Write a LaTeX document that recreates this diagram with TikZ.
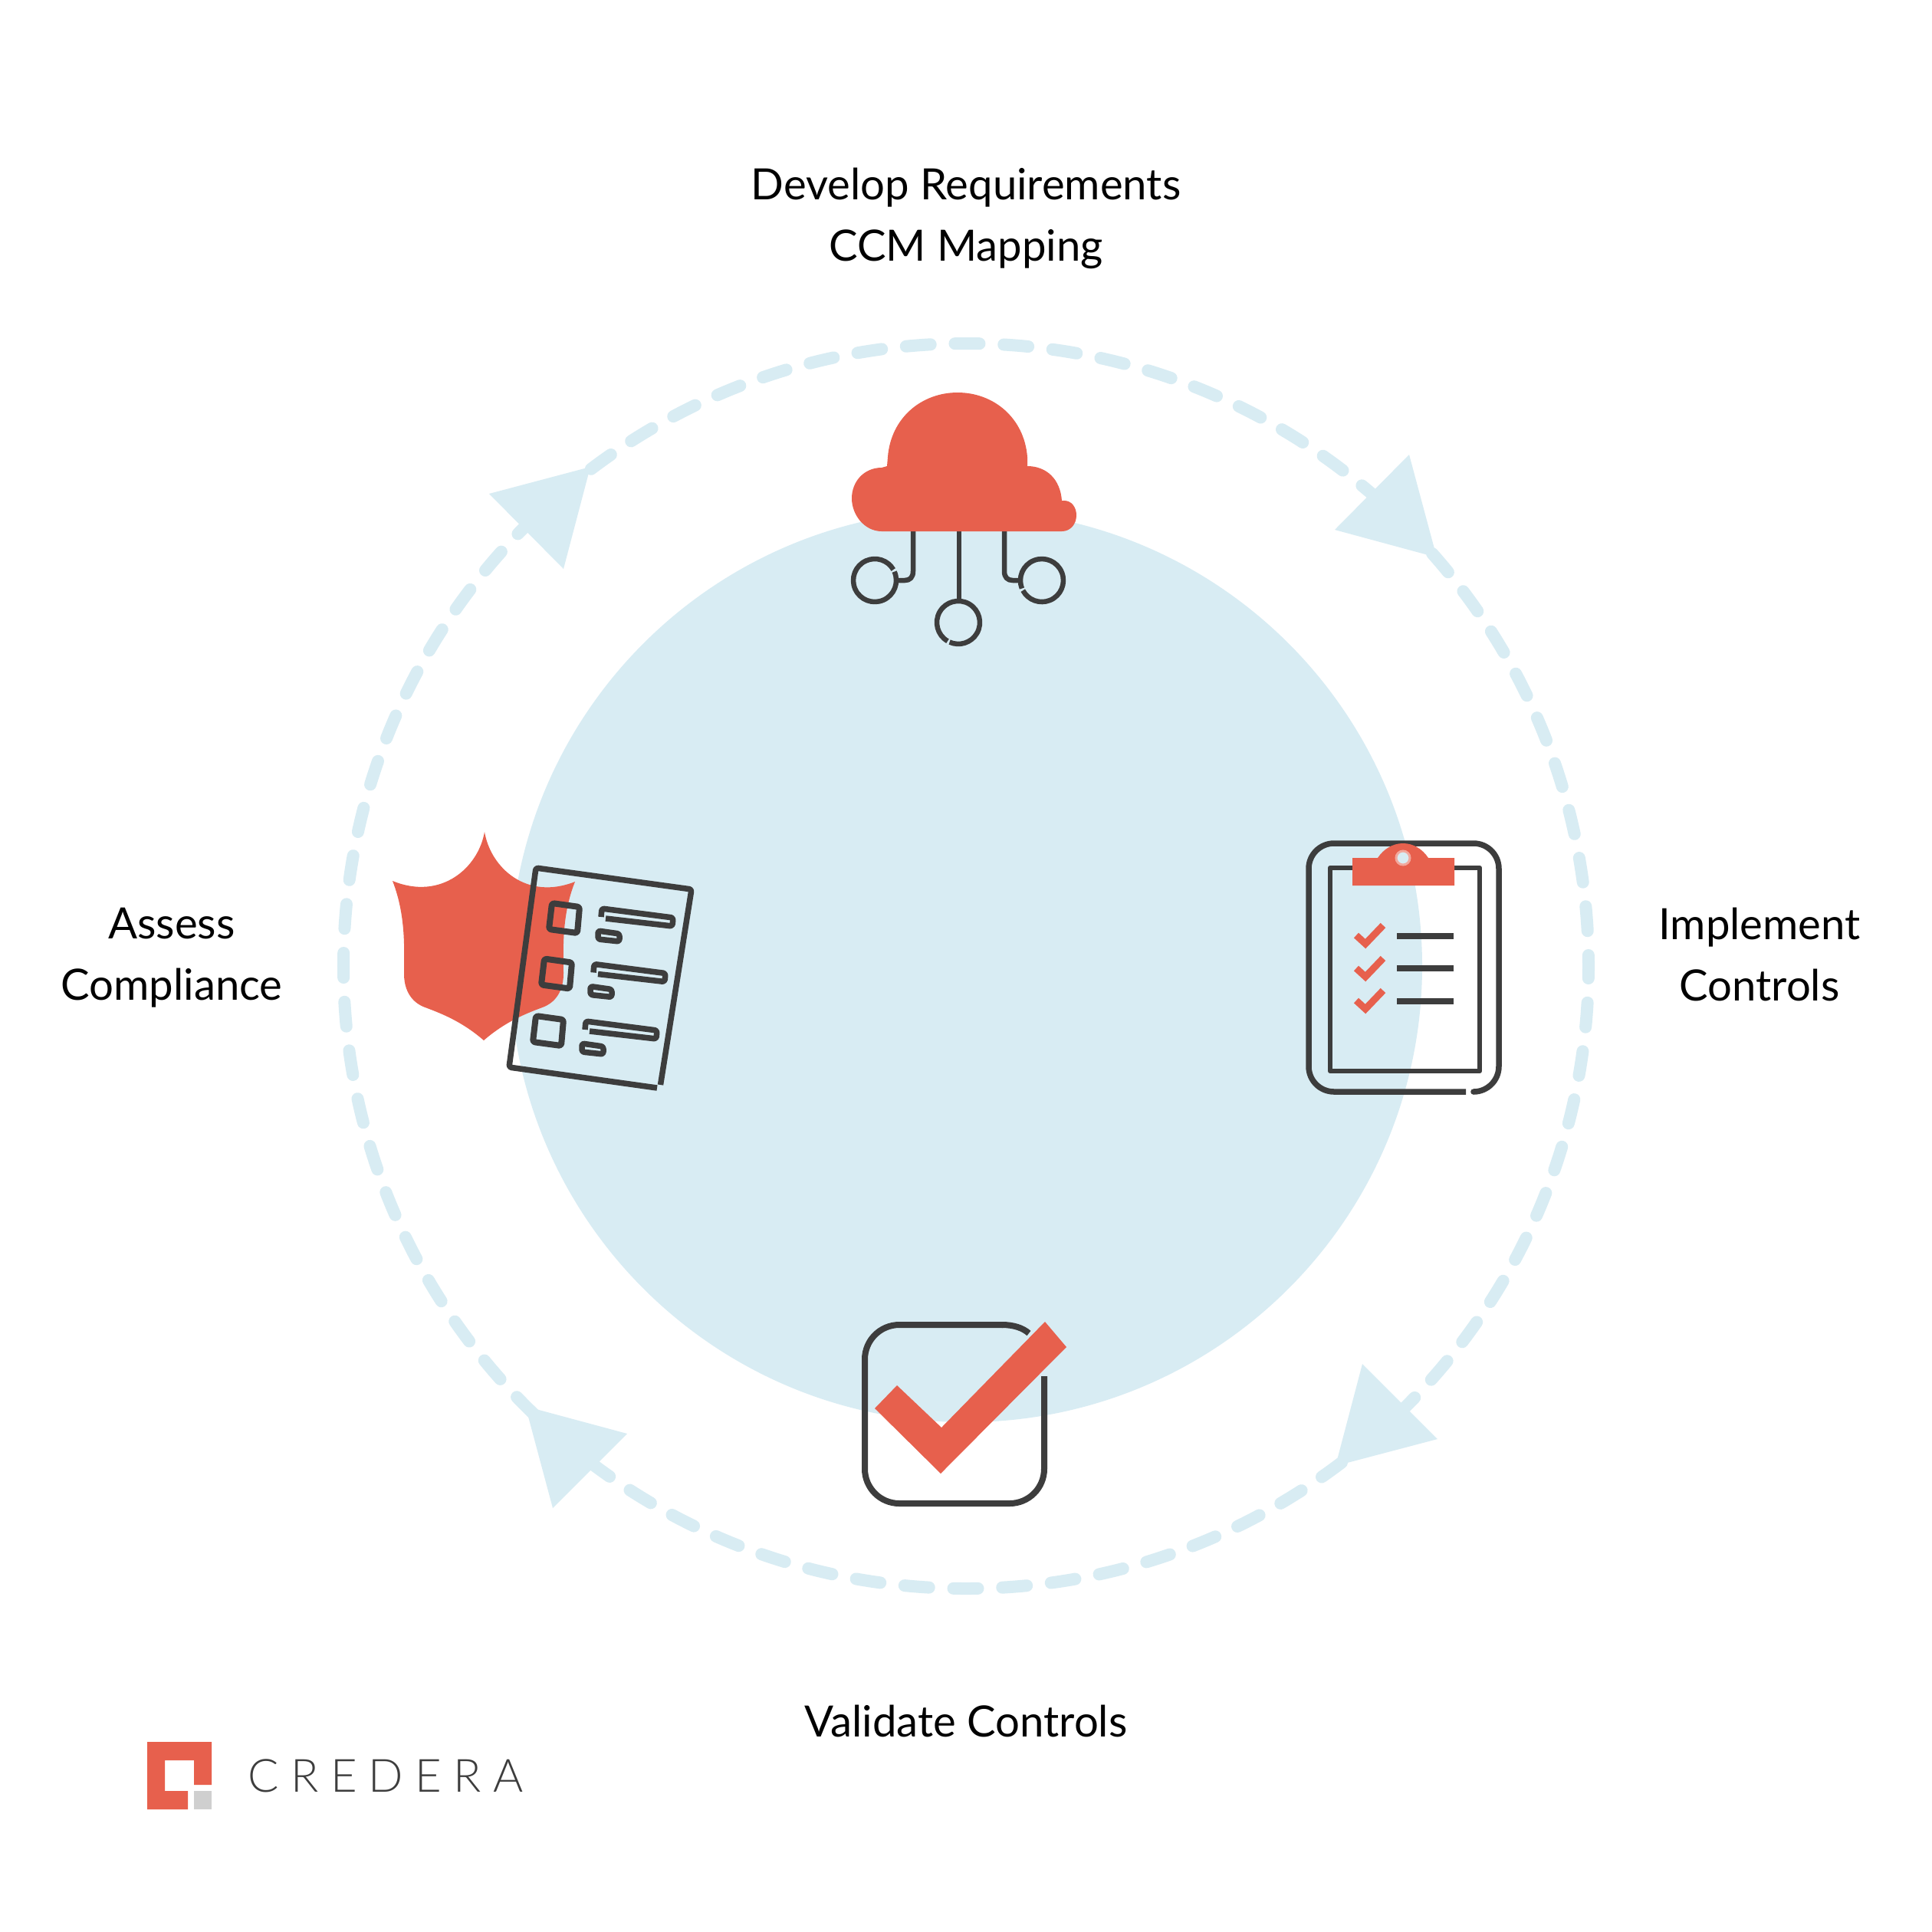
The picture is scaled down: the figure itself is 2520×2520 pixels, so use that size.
\documentclass[tikz,border=0pt]{standalone}
\usepackage{fontspec}
\setmainfont{Lato}
\newfontfamily\logofont[LetterSpace=25.6]{Lato Light}
\usepackage{tikz}
\usetikzlibrary{arrows.meta,positioning,calc}
\definecolor{paleblue}{HTML}{D8ECF3}
\definecolor{iconred}{HTML}{E7604D}
\definecolor{pencilgray}{HTML}{3D3D3D}
\definecolor{logogray}{HTML}{CFCFCF}

\begin{document}
\begin{tikzpicture}[x=0.01cm,y=-0.01cm,
    steplabel/.style={align=center,inner sep=0pt,text=black,font=\fontsize{16}{22.8}\selectfont},
    ringdash/.style={paleblue,line width=0.16cm,line cap=round,dash pattern=on 0.32cm off 0.3177cm,dash phase=0.16cm},
    ringhead/.style={fill=paleblue},
    pencil/.style={draw=pencilgray,line width=0.075cm,line join=round},
    hubline/.style={pencil,line width=0.065cm},
    boxline/.style={pencil,line width=0.08cm,rounded corners=0.03cm},
    barline/.style={pencil,line width=0.075cm,rounded corners=0.03cm},
    tickline/.style={draw=iconred,line width=0.09cm}]
  \useasboundingbox (0,0) rectangle (2520,2520);
  \fill[white] (0,0) rectangle (2520,2520); % 背景
  \fill[paleblue] (1260,1260) circle [radius=595]; % 中央の大きな円
  \draw[ringdash] (1260,1260) circle [radius=812]; % 外周の破線の輪
  \fill[ringhead] (1838,593) -- (1741,691) -- (1874,727) -- cycle; % 右上の矢じり
  \fill[ringhead] (1777,1779) -- (1875,1877) -- (1742,1912) -- cycle; % 右下の矢じり
  \fill[ringhead] (818,1870) -- (721,1967) -- (685.4,1834.3) -- cycle; % 左下の矢じり
  \fill[ringhead] (638,644) -- (735,742) -- (770,609) -- cycle; % 左上の矢じり

  \draw[hubline] (1191,693) -- (1191,745) .. controls (1191,753) and (1187,757) .. (1180,757) -- (1172,757); % 雲の左の配線
  \draw[hubline] (1251,693) -- (1251,783); % 雲の中央の配線
  \draw[hubline] (1310,693) -- (1310,745) .. controls (1310,753) and (1314,757) .. (1321,757) -- (1328,757); % 雲の右の配線
  \draw[hubline] (1166.6,745.6) arc [start angle=-24,delta angle=354,radius=28]; % 左の丸
  \draw[hubline] (1236,836.2) arc [start angle=120,delta angle=354,radius=28]; % 中央の丸
  \draw[hubline] (1333,767.5) arc [start angle=158,delta angle=354,radius=28]; % 右の丸
  \fill[iconred] (1150,693) .. controls (1128,693) and (1111,672) .. (1111,650)
    .. controls (1111,628) and (1127,610) .. (1150,610) -- (1157,608) -- (1158,596)
    .. controls (1162,545) and (1202,512) .. (1249,512)
    .. controls (1296,512) and (1336,545) .. (1340,596) -- (1340,608)
    .. controls (1365,608) and (1383,625) .. (1385,653) -- (1388,653)
    .. controls (1398,653) and (1404,662) .. (1404,672)
    .. controls (1404,684) and (1396,693) .. (1385,693) -- cycle; % 雲

  \fill[iconred] (632,1085) .. controls (624,1132) and (575,1175) .. (512,1149)
    .. controls (530,1195) and (527,1240) .. (527,1270)
    .. controls (527,1300) and (545,1310) .. (552,1313)
    .. controls (570,1320) and (600,1330) .. (631,1357)
    .. controls (662,1330) and (692,1320) .. (710,1313)
    .. controls (717,1310) and (735,1300) .. (735,1270)
    .. controls (735,1240) and (732,1195) .. (750,1150)
    .. controls (687,1175) and (640,1132) .. cycle; % 盾
  \draw[pencil,rounded corners=0.03cm] (861.5,1415) -- (902,1160) -- (699,1132) -- (664,1392) -- (857,1419); % 書類の枠
  \draw[boxline] (720,1178) -- (756,1183) -- (753,1217) -- (716,1212) -- cycle; % 1段目の四角
  \draw[barline] (784,1196) -- (785,1185) -- (878,1197) -- (877,1208) -- (790,1198); % 1段目の長い棒
  \draw[barline] (780,1214) -- (808,1218) -- (808,1228) -- (780,1225) -- cycle; % 1段目の短い棒
  \draw[boxline] (710,1250.5) -- (746,1255.5) -- (743,1289.5) -- (706,1284.5) -- cycle; % 2段目の四角
  \draw[barline] (774,1268.5) -- (775,1257.5) -- (868,1269.5) -- (867,1280.5) -- (780,1270.5); % 2段目の長い棒
  \draw[barline] (770,1286.5) -- (798,1290.5) -- (798,1300.5) -- (770,1297.5) -- cycle; % 2段目の短い棒
  \draw[boxline] (699,1325) -- (735,1330) -- (732,1364) -- (695,1359) -- cycle; % 3段目の四角
  \draw[barline] (763,1343) -- (764,1332) -- (857,1344) -- (856,1355) -- (769,1345); % 3段目の長い棒
  \draw[barline] (759,1361) -- (787,1365) -- (787,1375) -- (759,1372) -- cycle; % 3段目の短い棒

  \draw[pencil,rounded corners=0.33cm] (1912,1424) -- (1707,1424) -- (1707,1100) -- (1955,1100) -- (1955,1424) -- (1922,1424); % クリップボードの外枠
  \draw[hubline] (1735,1132) rectangle (1930,1397); % クリップボードの内枠
  \fill[iconred] (1764,1119) -- (1797,1119) .. controls (1805,1107) and (1817,1100) .. (1830,1100)
    .. controls (1843,1100) and (1855,1107) .. (1863,1119) -- (1897,1119) -- (1897,1155) -- (1764,1155) -- cycle; % クリップ
  \draw[draw=iconred!55!white,fill=paleblue,line width=0.03cm] (1830,1119) circle [radius=9]; % クリップの穴
  \draw[tickline] (1769,1220) -- (1781,1231) -- (1804,1207); % 1つ目のチェック
  \draw[tickline] (1769,1263) -- (1781,1274) -- (1804,1250); % 2つ目のチェック
  \draw[tickline] (1769,1305) -- (1781,1316) -- (1804,1292); % 3つ目のチェック
  \draw[pencil] (1822,1221) -- (1896,1221); % 1行目の線
  \draw[pencil] (1822,1263) -- (1896,1263); % 2行目の線
  \draw[pencil] (1822,1306) -- (1896,1306); % 3行目の線

  \draw[pencil,line width=0.08cm,rounded corners=0.45cm] (1362,1795) -- (1362,1961) -- (1128,1961) -- (1128,1728) -- (1308,1728); % チェックボックスの枠
  \draw[pencil,line width=0.08cm] (1307,1728) .. controls (1322,1728) and (1334,1732) .. (1342,1739); % 枠の右上の角
  \fill[iconred] (1363,1724) -- (1391,1757) -- (1227,1922) -- (1141,1837) -- (1170,1807) -- (1228,1862) -- cycle; % 大きなチェック

  \node[steplabel] (requirements) at (1260,285) {Develop Requirements\\CCM Mapping};
  \node[steplabel] (implement) at (2295,1245) {Implement\\Controls};
  \node[steplabel] (validate) at (1260,2245) {Validate Controls};
  \node[steplabel] (assess) at (224,1249) {Assess\\Compliance};

  \fill[iconred] (192,2272) -- (276,2272) -- (276,2328) -- (253,2328) -- (253,2296) -- (215,2296) -- (215,2336) -- (245,2336) -- (245,2360) -- (192,2360) -- cycle; % ロゴの赤い部分
  \fill[logogray] (253,2336) rectangle (276,2360); % ロゴの灰色の四角
  \node[anchor=west,inner sep=0pt,text=pencilgray,font=\logofont\fontsize{17}{20}\selectfont] (logotext) at (323,2316.5) {CREDERA};
\end{tikzpicture}
\end{document}
